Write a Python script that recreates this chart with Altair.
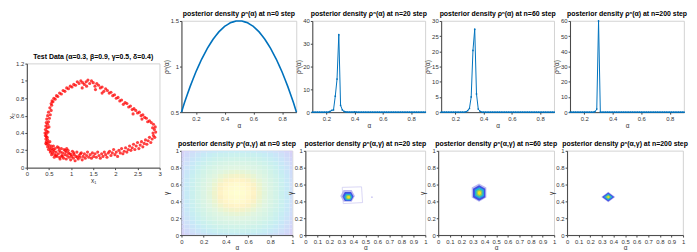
import altair as alt
import pandas as pd

FONT = "Liberation Sans"
BLUE = "#0072BD"

# ---------------- data ----------------
scatter_pts = [
    (0.56,0.72),(0.52,0.69),(0.55,0.66),(0.49,0.64),(0.53,0.61),(0.47,0.60),(0.51,0.57),(0.45,0.56),
    (0.49,0.53),(0.44,0.52),(0.47,0.50),(0.43,0.48),(0.46,0.46),(0.42,0.44),(0.45,0.42),(0.41,0.40),
    (0.44,0.39),(0.42,0.37),(0.46,0.35),(0.43,0.33),(0.47,0.32),(0.44,0.30),(0.48,0.29),(0.45,0.27),
    (0.50,0.26),(0.47,0.24),(0.52,0.23),(0.49,0.21),(0.54,0.20),(0.44,0.36),(0.48,0.41),(0.50,0.47),
    (0.43,0.28),(0.52,0.30),(0.55,0.25),
    (0.57,0.22),(0.58,0.17),(0.60,0.25),(0.61,0.19),(0.63,0.15),(0.64,0.22),(0.66,0.18),(0.68,0.13),
    (0.69,0.24),(0.71,0.16),(0.73,0.20),(0.74,0.12),(0.76,0.18),(0.78,0.22),(0.79,0.14),(0.81,0.17),
    (0.83,0.11),(0.84,0.21),(0.86,0.15),(0.88,0.18),(0.89,0.10),(0.91,0.14),(0.93,0.20),(0.95,0.12),
    (0.97,0.16),(0.99,0.09),(1.01,0.13),(1.03,0.19),(1.05,0.11),(1.07,0.15),(1.09,0.08),(1.11,0.13),
    (1.13,0.18),(1.16,0.10),(1.18,0.14),(1.20,0.12),(1.23,0.17),(1.25,0.09),(1.27,0.13),(1.30,0.16),
    (1.32,0.11),(1.35,0.14),(1.37,0.18),(1.40,0.12),(1.43,0.15),(1.46,0.11),(1.48,0.17),(1.51,0.13),
    (1.54,0.16),(1.57,0.12),(1.60,0.18),(1.63,0.14),(1.66,0.11),(1.69,0.16),(1.72,0.13),(1.75,0.18),
    (1.78,0.15),(1.81,0.12),(1.84,0.17),(1.87,0.19),(1.90,0.14),(1.93,0.17),(1.96,0.21),(1.99,0.15),
    (2.02,0.18),(2.05,0.13),(2.08,0.20),(2.11,0.17),(2.14,0.22),(2.17,0.16),(2.20,0.19),(2.23,0.23),
    (2.26,0.18),(2.29,0.21),(2.32,0.25),(2.35,0.20),(2.38,0.23),(2.41,0.27),(2.44,0.21),(2.47,0.25),
    (2.50,0.29),(2.53,0.22),(2.56,0.26),(2.59,0.30),(2.62,0.24),(2.65,0.28),(2.68,0.32),(2.71,0.27),
    (2.74,0.31),(2.77,0.35),(2.80,0.29),(2.83,0.33),(2.86,0.37),(2.89,0.35),(2.85,0.40),(2.91,0.41),
    (2.88,0.44),(2.84,0.46),(2.90,0.47),(2.86,0.50),
    (0.60,0.21),(0.66,0.14),(0.72,0.23),(0.80,0.13),(0.87,0.20),(0.94,0.17),(1.00,0.15),(1.06,0.17),
    (1.14,0.12),(1.21,0.16),(0.53,0.18),(0.56,0.15),(0.62,0.12),(0.75,0.10),(0.90,0.22),
    (2.81,0.52),(2.77,0.54),(2.73,0.53),(2.70,0.57),(2.66,0.58),(2.62,0.61),(2.58,0.60),(2.54,0.64),
    (2.50,0.63),(2.46,0.66),(2.42,0.68),(2.38,0.67),(2.34,0.71),(2.30,0.70),(2.26,0.74),(2.22,0.75),
    (2.18,0.73),(2.14,0.78),(2.10,0.77),(2.06,0.81),(2.02,0.80),(1.98,0.84),(1.94,0.83),(1.90,0.87),
    (1.86,0.86),(1.82,0.89),(1.78,0.91),(1.74,0.88),(1.70,0.93),(1.66,0.92),(1.62,0.95),(1.58,0.97),
    (1.54,0.94),(1.50,0.98),(1.46,1.00),(1.42,0.97),(1.38,1.01),(1.34,0.99),(1.30,0.96),(1.26,0.98),
    (1.22,1.00),(1.18,0.97),(1.14,0.99),(1.10,0.95),(1.06,0.96),(1.02,0.93),(0.98,0.94),(0.94,0.91),
    (0.90,0.92),(0.86,0.88),(0.82,0.89),(0.78,0.85),(0.74,0.86),(0.70,0.82),(0.67,0.83),(0.64,0.79),
    (0.61,0.80),(0.59,0.76),(0.57,0.77),(0.55,0.74),
    (1.55,0.90),(1.70,0.86),(1.25,0.92),(2.40,0.62),(2.60,0.56),(1.35,0.94),
]

alpha_prior = [0.10,0.12,0.14,0.16,0.18,0.20,0.22,0.24,0.26,0.28,0.30,0.32,0.34,0.36,0.38,0.40,0.42,
               0.44,0.46,0.48,0.50,0.52,0.54,0.56,0.58,0.60,0.62,0.64,0.66,0.68,0.70,0.72,0.74,0.76,
               0.78,0.80,0.82,0.84,0.86,0.88,0.90]
rho_n0 = [0.50,0.60,0.69,0.78,0.86,0.94,1.01,1.08,1.14,1.20,1.25,1.30,1.34,1.38,1.41,1.44,1.46,
          1.48,1.49,1.50,1.50,1.50,1.49,1.48,1.46,1.44,1.41,1.38,1.34,1.30,1.25,1.20,1.14,1.08,
          1.01,0.94,0.86,0.78,0.69,0.60,0.50]

alpha_grid = [0.1,0.1125,0.125,0.1375,0.15,0.1625,0.175,0.1875,0.2,0.2125,
              0.225,0.2375,0.25,0.2625,0.275,0.2875,0.3,0.3125,0.325,0.3375,
              0.35,0.3625,0.375,0.3875,0.4,0.4125,0.425,0.4375,0.45,0.4625,
              0.475,0.4875,0.5,0.5125,0.525,0.5375,0.55,0.5625,0.575,0.5875,
              0.6,0.6125,0.625,0.6375,0.65,0.6625,0.675,0.6875,0.7,0.7125,
              0.725,0.7375,0.75,0.7625,0.775,0.7875,0.8,0.8125,0.825,0.8375,
              0.85,0.8625,0.875,0.8875,0.9]
rho_n20 = [0,0,0,0,0,0,0,0,0,0.05,
           0.3,0.8,1.0,7.0,14.5,34.0,3.0,1.0,0.3,0.1,
           0.05,0.05,0.05,0.05,0.1,0.05,0,0,0,0,
           0,0,0,0,0,0,0,0,0,0,
           0,0,0,0,0,0,0,0,0,0,
           0,0,0,0,0,0,0,0,0,0,
           0,0,0,0,0]
rho_n60 = [0,0,0,0,0,0,0,0,0,0,
           0,0,0,0,0.1,0.5,1.2,5.0,20.3,27.3,
           6.0,1.0,0.3,0.05,0,0,0,0,0,0,
           0,0,0,0,0,0,0,0,0,0,
           0,0,0,0,0,0,0,0,0,0,
           0,0,0,0,0,0,0,0,0,0,
           0,0,0,0,0]
rho_n200 = [0,0,0,0,0,0,0,0,0,0,
            0,0,0,0,0.3,2.0,60.0,0,0,0,
            0,0,0,0,0,0,0,0,0,0,
            0,0,0,0,0,0,0,0,0,0,
            0,0,0,0,0,0,0,0,0,0,
            0,0,0,0,0,0,0,0,0,0,
            0,0,0,0,0]

# prior marginals on the 2-D grid (n = 0)
grid2d = [0.0,0.05,0.1,0.15,0.2,0.25,0.3,0.35,0.4,0.45,0.5,0.55,0.6,0.65,0.7,0.75,0.8,0.85,0.9,0.95,1.0]
prior_a = [0.30,0.43,0.55,0.66,0.75,0.83,0.89,0.94,0.97,0.99,1.00,0.99,0.97,0.94,0.89,0.83,0.75,0.66,0.55,0.43,0.30]
prior_g = [0.45,0.56,0.65,0.73,0.80,0.86,0.91,0.95,0.98,0.99,1.00,0.99,0.98,0.95,0.91,0.86,0.80,0.73,0.65,0.56,0.45]

# posterior blobs: centre (alpha, gamma) of each contour level 1..5
blob_levels = [1,2,3,4,5]
blob20_alpha = [0.352,0.355,0.357,0.358,0.36]
blob20_gamma = [0.465,0.458,0.452,0.45,0.448]
blob60_alpha = [0.352,0.353,0.355,0.355,0.355]
blob60_gamma = [0.505,0.50,0.50,0.50,0.50]
blob200_alpha = [0.355,0.355,0.355,0.355,0.355]
blob200_gamma = [0.452,0.452,0.452,0.452,0.452]

outline20_alpha = [0.392]
outline20_gamma = [0.47]
speck20_alpha = [0.555]
speck20_gamma = [0.45]

LEVEL_COLORS = ["#bdb9f0", "#4150e4", "#1fb0d6", "#8ac964", "#f7e31c"]


def fmt_axis(values, title, fmt=".2~f"):
    return alt.Axis(values=values, format=fmt, title=title)


# ---------------- scatter ----------------
df_sc = pd.DataFrame({"x1": [p[0] for p in scatter_pts], "x2": [p[1] for p in scatter_pts]})
scatter = alt.Chart(df_sc).mark_circle(color="#ff0000", size=10, opacity=0.75).encode(
    x=alt.X("x1:Q", scale=alt.Scale(domain=[0, 3], nice=False),
            axis=fmt_axis([0,0.5,1,1.5,2,2.5,3], "x₁")),
    y=alt.Y("x2:Q", scale=alt.Scale(domain=[0, 1.2], nice=False),
            axis=fmt_axis([0,0.2,0.4,0.6,0.8,1,1.2], "x₂")),
).properties(width=134, height=105, title="Test Data (α=0.3, β=0.9, γ=0.5, δ=0.4)")


def spacer(w, h):
    return alt.Chart(pd.DataFrame({"v": [0]})).mark_point(opacity=0, size=0).encode(
        x=alt.value(0), y=alt.value(0)
    ).properties(width=w, height=h, view=alt.ViewBackground(strokeOpacity=0))


left = alt.vconcat(spacer(134, 31), scatter, spacing=0)

# ---------------- top row ----------------
def top_panel(a, d, title, ydom, yticks, w, points=True):
    df = pd.DataFrame({"alpha": a, "dens": d})
    if points:
        mk = alt.Chart(df).mark_line(color=BLUE, strokeWidth=1,
                                     point=alt.OverlayMarkDef(color=BLUE, size=3, filled=True))
    else:
        mk = alt.Chart(df).mark_line(color=BLUE, strokeWidth=1.6)
    return mk.encode(
        x=alt.X("alpha:Q", scale=alt.Scale(domain=[0.1, 0.9], nice=False),
                axis=fmt_axis([0.2,0.4,0.6,0.8], "α", ".1f")),
        y=alt.Y("dens:Q", scale=alt.Scale(domain=ydom, nice=False),
                axis=fmt_axis(yticks, "ρⁿ(α)")),
    ).properties(width=w, height=92, title=title)

t1 = top_panel(alpha_prior, rho_n0, "posterior density ρⁿ(α) at n=0 step", [0.5,1.5], [0.5,1,1.5], 116, False)
t2 = top_panel(alpha_grid, rho_n20, "posterior density ρⁿ(α) at n=20 step", [0,40], [0,10,20,30,40], 114)
t3 = top_panel(alpha_grid, rho_n60, "posterior density ρⁿ(α) at n=60 step", [0,30], [0,5,10,15,20,25,30], 114)
t4 = top_panel(alpha_grid, rho_n200, "posterior density ρⁿ(α) at n=200 step", [0,60], [0,10,20,30,40,50,60], 115)

# ---------------- bottom row ----------------
TICKS_02 = [0,0.2,0.4,0.6,0.8,1]
TICKS_01 = [0,0.1,0.2,0.3,0.4,0.5,0.6,0.7,0.8,0.9,1]
SC01 = alt.Scale(domain=[0, 1], nice=False)

rows = []
half = 0.025
for i, a in enumerate(grid2d):
    for j, g in enumerate(grid2d):
        rows.append({"a0": max(a - half, 0), "a1": min(a + half, 1),
                     "g0": max(g - half, 0), "g1": min(g + half, 1),
                     "dens": prior_a[i] * prior_g[j]})
df_prior2 = pd.DataFrame(rows)
b1 = alt.Chart(df_prior2).mark_rect(strokeWidth=0).encode(
    x=alt.X("a0:Q", scale=SC01, axis=fmt_axis(TICKS_02, "α")),
    x2="a1:Q",
    y=alt.Y("g0:Q", scale=SC01, axis=fmt_axis(TICKS_02, "γ")),
    y2="g1:Q",
    color=alt.Color("dens:Q", legend=None,
                    scale=alt.Scale(domain=[0.13, 0.3, 0.5, 0.8, 0.93, 1.0],
                                    range=["#d8cef5", "#cfe0f8", "#c8eff1", "#e0f5e2", "#fcf1c4", "#ffffff"])),
).properties(width=112, height=85, title="posterior density ρⁿ(α,γ) at n=0 step")


HEX_FLAT = "M-1,0L-0.55,-0.8L0.55,-0.8L1,0L0.55,0.8L-0.55,0.8Z"
HEX_TALL = "M0,-1L0.8,-0.55L0.8,0.55L0,1L-0.8,0.55L-0.8,-0.55Z"
DIAMOND = "M-1,0L0,-0.75L1,0L0,0.75Z"

XB = alt.X("alpha:Q", scale=SC01, axis=fmt_axis(TICKS_01, "α"))
YB = alt.Y("gamma:Q", scale=SC01, axis=fmt_axis(TICKS_02, "γ"))


def blob(a, g, sizes, shape):
    df = pd.DataFrame({"alpha": a, "gamma": g, "level": blob_levels})
    layers = []
    for lev, s, c in zip(blob_levels, sizes, LEVEL_COLORS):
        layers.append(
            alt.Chart(df).transform_filter(alt.datum.level == lev).mark_point(
                filled=True, opacity=1, shape=shape, size=s, color=c, strokeWidth=0
            ).encode(x=XB, y=YB)
        )
    return layers


out20 = alt.Chart(pd.DataFrame({"alpha": outline20_alpha, "gamma": outline20_gamma})).mark_point(
    shape="M-1,-0.8L0.9,-0.85L1,0.7L-0.9,0.8Z", size=420, filled=False, color="#b3aeec", strokeWidth=0.7
).encode(x=XB, y=YB)
speck20 = alt.Chart(pd.DataFrame({"alpha": speck20_alpha, "gamma": speck20_gamma})).mark_point(
    shape="circle", size=3, filled=True, color="#b3aeec"
).encode(x=XB, y=YB)

b2 = alt.layer(*blob(blob20_alpha, blob20_gamma, [220, 130, 70, 30, 10], HEX_FLAT), out20, speck20).properties(
    width=121, height=85, title="posterior density ρⁿ(α,γ) at n=20 step")
b3 = alt.layer(*blob(blob60_alpha, blob60_gamma, [340, 240, 130, 55, 16], HEX_TALL)).properties(
    width=117, height=85, title="posterior density ρⁿ(α,γ) at n=60 step")
b4 = alt.layer(*blob(blob200_alpha, blob200_gamma, [200, 150, 80, 30, 8], DIAMOND)).properties(
    width=117, height=85, title="posterior density ρⁿ(α,γ) at n=200 step")

top = alt.hconcat(t1, t2, t3, t4, spacing=16, bounds="flush")
bottom = alt.hconcat(b1, b2, b3, b4, spacing=13, bounds="flush")
right = alt.vconcat(top, bottom, spacing=10)

chart = alt.hconcat(left, right, spacing=0).properties(padding=0).configure(
    font=FONT
).configure_view(
    stroke="#c8c8c8", strokeWidth=0.8
).configure_axis(
    labelFontSize=6, labelColor="#333333", titleFontSize=6.5, titleFontWeight="normal",
    titleColor="#333333", domainColor="#444444", tickColor="#444444", tickSize=2,
    grid=False, labelFlush=False, labelOverlap=False, labelPadding=1, titlePadding=1,
).configure_title(
    fontSize=7, fontWeight="bold", offset=1, color="#000000"
)

chart.save("out.html", embed_options={"renderer": "svg", "actions": False})
